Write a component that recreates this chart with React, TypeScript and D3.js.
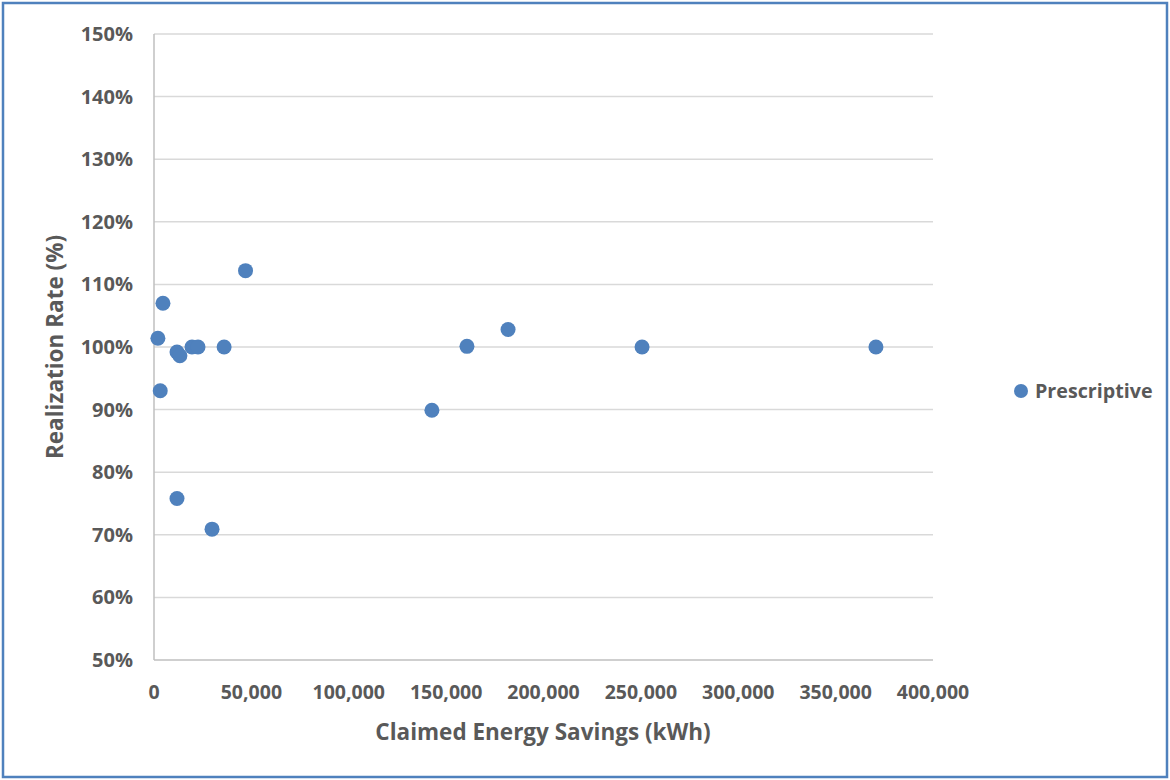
import React from "react";
import * as d3 from "d3";

// Claimed savings (kWh) and realization rate (%) for each prescriptive project
const claimedSavings = [2000, 4600, 3200, 11800, 13300, 19500, 22600, 36000, 47000, 11800, 29800, 142700, 160700, 181800, 250600, 370700];
const realizationRate = [101.4, 107.0, 93.0, 99.2, 98.6, 100.0, 100.0, 100.0, 112.2, 75.8, 70.9, 89.9, 100.1, 102.8, 100.0, 100.0];

const xTicks = [0, 50000, 100000, 150000, 200000, 250000, 300000, 350000, 400000];
const yTicks = [50, 60, 70, 80, 90, 100, 110, 120, 130, 140, 150];

const seriesName = "Prescriptive";
const xTitle = "Claimed Energy Savings (kWh)";
const yTitle = "Realization Rate (%)";

const W = 1170;
const H = 780;
const plot = { left: 154, right: 933, top: 34, bottom: 660 };

const FONT = "'Open Sans', 'Liberation Sans', sans-serif";
const TEXT = "#595959";
const BLUE = "#4F81BD";

export default function App() {
  const x = d3.scaleLinear().domain([0, 400000]).range([plot.left, plot.right]);
  const y = d3.scaleLinear().domain([50, 150]).range([plot.bottom, plot.top]);
  const fmt = d3.format(",");

  return (
    <svg
      width={W}
      height={H}
      style={{ position: "fixed", left: 0, top: 0, background: "#fff" }}
      fontFamily={FONT}
    >
      <rect x={0} y={0} width={W} height={H} fill="#fff" />
      <rect x={3} y={3} width={W - 6} height={H - 6} fill="none" stroke={BLUE} strokeWidth={2.5} />

      {/* horizontal gridlines */}
      {yTicks.filter((t) => t > 50).map((t) => (
        <line key={t} x1={plot.left} x2={plot.right} y1={y(t)} y2={y(t)} stroke="#D9D9D9" strokeWidth={1.5} />
      ))}
      {/* axis lines */}
      <line x1={plot.left} x2={plot.right} y1={plot.bottom} y2={plot.bottom} stroke="#BFBFBF" strokeWidth={1.5} />
      <line x1={plot.left} x2={plot.left} y1={plot.top} y2={plot.bottom} stroke="#BFBFBF" strokeWidth={1.5} />

      {/* y tick labels */}
      {yTicks.map((t) => (
        <text key={t} x={133} y={y(t)} dy="0.35em" textAnchor="end" fontSize={20} fontWeight={700} fill={TEXT}>
          {t}%
        </text>
      ))}
      {/* x tick labels */}
      {xTicks.map((t) => (
        <text key={t} x={x(t)} y={699} textAnchor="middle" fontSize={19.5} fontWeight={700} fill={TEXT}>
          {fmt(t)}
        </text>
      ))}

      {/* axis titles */}
      <text x={543} y={740} textAnchor="middle" fontSize={22.5} fontWeight={700} fill={TEXT}>
        {xTitle}
      </text>
      <text
        transform={`translate(63, ${(plot.top + plot.bottom) / 2}) rotate(-90)`}
        textAnchor="middle"
        fontSize={22.5}
        fontWeight={700}
        fill={TEXT}
      >
        {yTitle}
      </text>

      {/* data points */}
      {claimedSavings.map((v, i) => (
        <circle key={i} cx={x(v)} cy={y(realizationRate[i])} r={7.5} fill={BLUE} />
      ))}

      {/* legend */}
      <circle cx={1021} cy={391} r={7} fill={BLUE} />
      <text x={1035} y={391} dy="0.35em" fontSize={19.7} fontWeight={700} fill={TEXT}>
        {seriesName}
      </text>
    </svg>
  );
}
